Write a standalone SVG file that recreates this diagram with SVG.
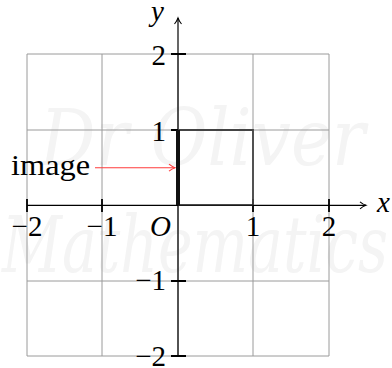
<svg xmlns="http://www.w3.org/2000/svg" width="392" height="368" viewBox="0 0 392 368">
<style>
.wm{font-family:"DejaVu Serif","Liberation Serif",serif;font-style:italic;fill:#f4f4f4}
.grid{stroke:#9a9a9a;stroke-width:1;fill:none}
.axis{stroke:#000;stroke-width:1.2;fill:none}
.tick{stroke:#000;stroke-width:1.8}
.lbl{font-family:"Liberation Serif","DejaVu Serif",serif;font-size:29px;fill:#000}
.it{font-style:italic}
</style>
<defs>
<marker id="ahb" markerWidth="10" markerHeight="10" refX="8" refY="5" orient="auto" markerUnits="userSpaceOnUse">
<path d="M2,1.5 Q5,4 8,5 Q5,6 2,8.5" fill="none" stroke="#000" stroke-width="1.1"/>
</marker>
<marker id="ahr" markerWidth="10" markerHeight="10" refX="8" refY="5" orient="auto" markerUnits="userSpaceOnUse">
<path d="M2,1.5 Q5,4 8,5 Q5,6 2,8.5" fill="none" stroke="#ff3b3b" stroke-width="1.1"/>
</marker>
</defs>
<rect width="392" height="368" fill="#fff"/>
<g id="watermark">
<text class="wm" x="40" y="165" font-size="78" textLength="325" lengthAdjust="spacingAndGlyphs">Dr Oliver</text>
<text class="wm" x="2" y="272" font-size="78" textLength="386" lengthAdjust="spacingAndGlyphs">Mathematics</text>
</g>
<g id="grid" class="grid">
<path d="M27,54V356M102,54V356M178,54V356M253,54V356M329,54V356"/>
<path d="M27,54H329M27,130H329M27,281H329M27,356H329"/>
</g>
<g id="connectors">
<path class="axis" d="M27,205.3H366" marker-end="url(#ahb)"/>
<path class="axis" d="M178,356V18" marker-end="url(#ahb)"/>
<path d="M95,167.7H175" stroke="#ff3b3b" stroke-width="1.1" fill="none" marker-end="url(#ahr)"/>
</g>
<g id="ticks" class="tick">
<path d="M27,199V212M102,199V212M253,199V212M329,199V212"/>
<path d="M171,54H186M171,130H186M171,281H186M171,356H186"/>
</g>
<g id="square">
<path d="M178,130H253V205" fill="none" stroke="#444" stroke-width="1.8"/>
<path d="M178,205H253" stroke="#222" stroke-width="1.6"/>
<path d="M178,130V205" stroke="#111" stroke-width="4"/>
</g>
<g id="labels" class="lbl">
<text x="27" y="236" text-anchor="middle">−2</text>
<text x="102" y="236" text-anchor="middle">−1</text>
<text class="it" x="171" y="236" text-anchor="end">O</text>
<text x="253" y="236" text-anchor="middle">1</text>
<text x="329" y="236" text-anchor="middle">2</text>
<text class="it" x="377" y="212">x</text>
<text class="it" x="151" y="21">y</text>
<text x="166" y="65" text-anchor="end">2</text>
<text x="166" y="141" text-anchor="end">1</text>
<text x="166" y="290" text-anchor="end">−1</text>
<text x="166" y="366" text-anchor="end">−2</text>
</g>
<g id="image-label">
<text class="lbl" x="11" y="175" textLength="79" lengthAdjust="spacingAndGlyphs">image</text>
</g>
</svg>
